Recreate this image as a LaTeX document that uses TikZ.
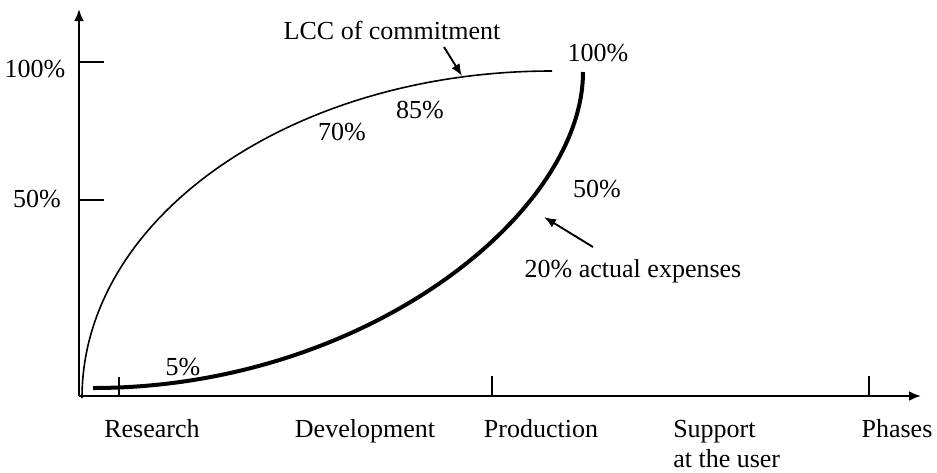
\documentclass[tikz,border=0pt]{standalone}
\usepackage{fontspec}
\setmainfont{Liberation Serif}
\usetikzlibrary{arrows.meta}
\begin{document}
\begin{tikzpicture}[x=0.75pt,y=-0.75pt,
  lbl/.style={font=\fontsize{19.5}{22}\selectfont, inner sep=0pt},
  blbl/.style={lbl, anchor=base},
  axis/.style={line width=1.9pt},
  tick/.style={line width=1.6pt},
  thin curve/.style={line width=1.2pt},
  thick curve/.style={line width=3pt},
  pointer/.style={line width=1.4pt, -{Latex[length=9pt,width=7pt]}}]
\useasboundingbox (0,0) rectangle (937,472);
% axes
\coordinate (O) at (79,396);
\coordinate (ytop) at (79,9);
\coordinate (xend) at (921,396);
\draw[axis, -{Latex[length=9pt,width=7.5pt]}] (O) -- (ytop);
\draw[axis, -{Latex[length=9pt,width=7.5pt]}] (O) -- (xend);
% y ticks
\coordinate (y100a) at (79,62); \coordinate (y100b) at (104,62);
\coordinate (y50a) at (79,200); \coordinate (y50b) at (104,200);
\draw[tick] (y100a) -- (y100b);
\draw[tick] (y50a) -- (y50b);
% x ticks
\coordinate (tr) at (119,377); \coordinate (trb) at (119,396);
\coordinate (tp) at (492,376); \coordinate (tpb) at (492,396);
\coordinate (tph) at (869,376); \coordinate (tphb) at (869,396);
\draw[tick] (tr) -- (trb);
\draw[tick] (tp) -- (tpb);
\draw[tick] (tph) -- (tphb);
% labels
\node[blbl] (l100) at (35,77) {100\%};
\node[blbl] (l50) at (37,207) {50\%};
\node[blbl] (research) at (152,437) {Research};
\node[blbl] (development) at (365,437) {Development};
\node[blbl] (production) at (541,437) {Production};
\node[blbl, anchor=base west] (support) at (673,437) {Support};
\node[blbl, anchor=base west] (user) at (673,467) {at the user};
\node[blbl] (phases) at (897,437) {Phases};
% curves
\coordinate (c1s) at (82,398);
\coordinate (c1e) at (552,71);
\draw[thin curve] (c1s) .. controls (82,217) and (292,71) .. (c1e);
\coordinate (c2s) at (93,388);
\coordinate (c2e) at (583,72);
\draw[thick curve] (c2s) .. controls (364,388) and (583,214) .. (c2e);
% curve labels
\node[blbl] (lcc) at (392,39) {LCC of commitment};
\coordinate (lccA) at (444,47);
\coordinate (lccB) at (462,76);
\draw[pointer] (lccA) -- (lccB);
\node[blbl] (p70) at (342,140) {70\%};
\node[blbl] (p85) at (420,118) {85\%};
\node[blbl] (p100) at (598,61) {100\%};
\node[blbl] (p50) at (597,197) {50\%};
\node[blbl] (p5) at (183,375) {5\%};
\node[blbl] (actual) at (633,277) {20\% actual expenses};
\coordinate (actA) at (593,247);
\coordinate (actB) at (544,217);
\draw[pointer] (actA) -- (actB);
\end{tikzpicture}
\end{document}
